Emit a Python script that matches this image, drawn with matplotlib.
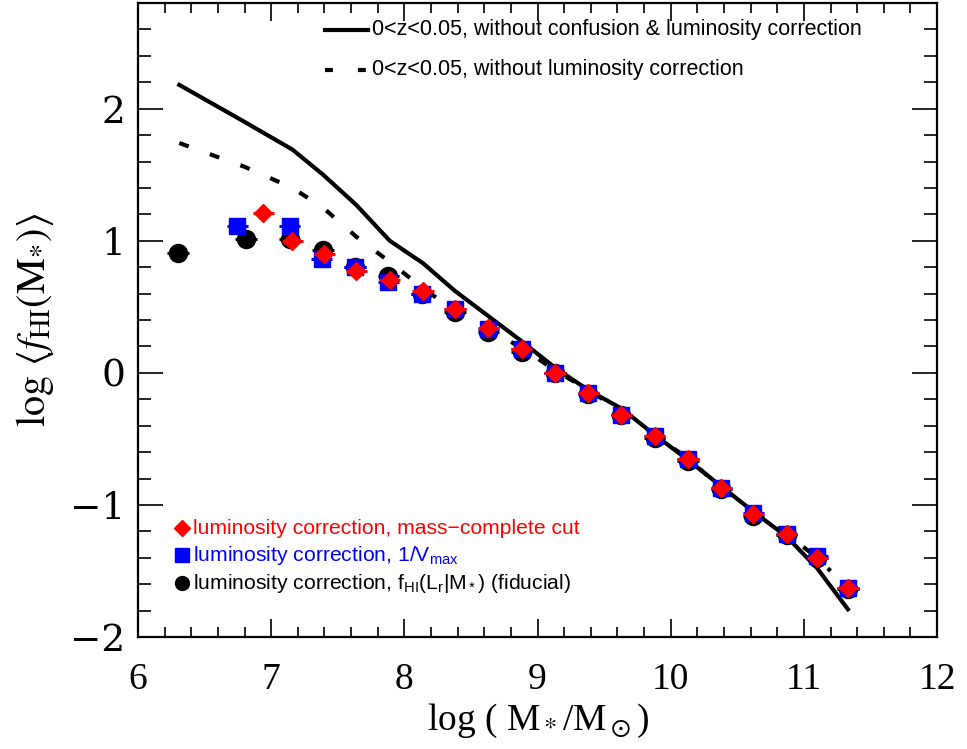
import matplotlib
matplotlib.use("Agg")
import matplotlib.pyplot as plt
from matplotlib.lines import Line2D
import numpy as np

plt.rcParams['mathtext.fontset'] = 'custom'
plt.rcParams['mathtext.rm'] = 'Liberation Sans'
plt.rcParams['mathtext.it'] = 'Liberation Sans:italic'

# ---- data ----
circ_x = [6.30, 6.81, 7.14, 7.39, 7.63, 7.88, 8.13, 8.38, 8.63, 8.88, 9.13, 9.38, 9.63, 9.88, 10.13, 10.38, 10.62, 10.87, 11.10, 11.33]
circ_y = [0.91, 1.01, 1.01, 0.93, 0.80, 0.73, 0.60, 0.46, 0.31, 0.16, 0.00, -0.16, -0.32, -0.49, -0.67, -0.88, -1.08, -1.23, -1.40, -1.64]

sq_x = [6.745, 7.14, 7.38, 7.63, 7.88, 8.13, 8.38, 8.63, 8.88, 9.13, 9.38, 9.63, 9.88, 10.13, 10.38, 10.62, 10.87, 11.10, 11.33]
sq_y = [1.11, 1.11, 0.86, 0.80, 0.69, 0.60, 0.48, 0.33, 0.18, 0.00, -0.15, -0.32, -0.48, -0.65, -0.87, -1.06, -1.22, -1.39, -1.63]

dia_x = [6.94, 7.16, 7.40, 7.64, 7.89, 8.14, 8.38, 8.63, 8.88, 9.13, 9.38, 9.63, 9.88, 10.13, 10.38, 10.62, 10.87, 11.10, 11.33]
dia_y = [1.21, 1.00, 0.90, 0.77, 0.70, 0.62, 0.48, 0.34, 0.18, 0.00, -0.15, -0.32, -0.48, -0.65, -0.87, -1.07, -1.22, -1.40, -1.63]

solid_x = [6.31, 6.80, 7.16, 7.39, 7.64, 7.89, 8.14, 8.38, 8.63, 8.88, 9.13, 9.38, 9.63, 9.88, 10.13, 10.38, 10.62, 10.87, 11.10, 11.33]
solid_y = [2.18, 1.90, 1.69, 1.50, 1.27, 1.00, 0.83, 0.62, 0.43, 0.24, 0.04, -0.13, -0.27, -0.47, -0.66, -0.86, -1.05, -1.24, -1.48, -1.79]

dash_x = [6.31, 6.80, 7.16, 7.39, 7.64, 7.89, 8.14, 8.38, 8.63, 8.88, 9.13, 9.38, 9.63, 9.88, 10.13, 10.38, 10.62, 10.87, 11.10, 11.20]
dash_y = [1.74, 1.56, 1.40, 1.25, 1.03, 0.84, 0.64, 0.47, 0.33, 0.19, 0.02, -0.13, -0.29, -0.47, -0.65, -0.87, -1.05, -1.22, -1.40, -1.50]

xerr = 0.08

fig = plt.figure(figsize=(9.67, 7.49), dpi=100)
ax = fig.add_axes([0.1427, 0.1495, 0.8264, 0.8465])

ax.plot(solid_x, solid_y, color='black', lw=3.0, solid_joinstyle='miter', zorder=2)
ax.plot(dash_x, dash_y, color='black', lw=3.0, dashes=(2.4, 5.4), zorder=2)

ax.errorbar(circ_x, circ_y, xerr=xerr, fmt='o', color='black', ms=13, elinewidth=2.2, capsize=0, zorder=3)
ax.errorbar(sq_x, sq_y, xerr=xerr, fmt='s', color='#0000ff', ms=11.5, elinewidth=2.2, capsize=0, zorder=4)
ax.errorbar(dia_x, dia_y, xerr=xerr, fmt='D', color='#ff0000', ms=9.5, elinewidth=2.2, capsize=0, zorder=5)

ax.set_xlim(6, 12)
ax.set_ylim(-2, 2.8)
ax.set_xticks(np.arange(6, 12.01, 1))
ax.set_xticks(np.arange(6, 12.01, 0.2), minor=True)
ax.set_yticks([-2, -1, 0, 1, 2])
ax.set_yticks(np.arange(-2, 2.81, 0.2), minor=True)
ax.set_xticklabels(['6', '7', '8', '9', '10', '11', '12'], fontfamily='Liberation Serif', fontsize=27)
ax.set_yticklabels(['\u22122', '\u22121', '0', '1', '2'], fontfamily='DejaVu Serif', fontsize=27)
ax.tick_params(axis='x', which='major', direction='in', length=13, width=1.2, top=True, pad=18)
ax.tick_params(axis='x', which='minor', direction='in', length=7, width=1.2, top=True)
ax.tick_params(axis='y', which='major', direction='in', length=18, width=1.2, right=True, pad=9)
ax.tick_params(axis='y', which='minor', direction='in', length=9.5, width=1.2, right=True)
for s in ax.spines.values():
    s.set_linewidth(1.6)

ax.set_xlabel(r'log ( M$_*$/M$_\odot$)', fontfamily='Liberation Serif', fontsize=27,
              math_fontfamily='stix', labelpad=4)
ax.set_ylabel(r'$\mathrm{log}\ \langle \mathit{f}_{\mathrm{HI}}(\mathrm{M}_{*})\rangle$',
              fontsize=29, math_fontfamily='stix', labelpad=10)

# ---- legends ----
def fx(px):
    return (px - 138) / 799.0

def fy(py):
    return (637 - py) / 634.0

ax.add_line(Line2D([fx(325), fx(368)], [fy(30), fy(30)], transform=ax.transAxes, color='black', lw=3.0))
ax.add_line(Line2D([fx(325), fx(366)], [fy(70), fy(70)], transform=ax.transAxes, color='black', lw=3.0, dashes=(1.9, 6.0)))
ax.text(fx(372), fy(30), '0<z<0.05, without confusion & luminosity correction', transform=ax.transAxes,
        fontfamily='Liberation Sans', fontsize=15.5, va='center', ha='left')
ax.text(fx(372), fy(70), '0<z<0.05, without luminosity correction', transform=ax.transAxes,
        fontfamily='Liberation Sans', fontsize=15.5, va='center', ha='left')

ax.plot([fx(182)], [fy(528)], 'D', color='#ff0000', ms=8, transform=ax.transAxes, clip_on=False)
ax.plot([fx(182)], [fy(555)], 's', color='#0000ff', ms=10, transform=ax.transAxes, clip_on=False)
ax.plot([fx(182)], [fy(583)], 'o', color='black', ms=10, transform=ax.transAxes, clip_on=False)
ax.text(fx(193), fy(528), 'luminosity correction, mass\u2212complete cut', transform=ax.transAxes,
        fontfamily='Liberation Sans', fontsize=15.2, va='center', ha='left', color='#ff0000')
ax.text(fx(193), fy(555), r'luminosity correction, 1/V$_{\mathrm{max}}$', transform=ax.transAxes,
        fontfamily='Liberation Sans', fontsize=15.2, va='center', ha='left', color='#0000ff')
ax.text(fx(193), fy(583), r'luminosity correction, f$_{\mathrm{HI}}$(L$_{\mathrm{r}}$|M$_*$) (fiducial)', transform=ax.transAxes,
        fontfamily='Liberation Sans', fontsize=15.2, va='center', ha='left', color='black')

fig.savefig('out.png', dpi=100)
